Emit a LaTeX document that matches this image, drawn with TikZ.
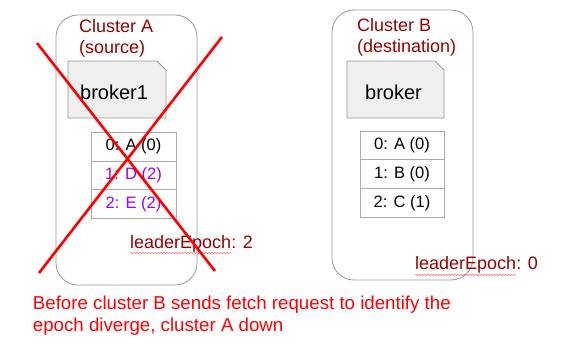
\documentclass[tikz,border=0pt]{standalone}
\usepackage{fontspec}
\setmainfont{Liberation Sans}
\usetikzlibrary{decorations.pathmorphing}
\definecolor{dred}{HTML}{990000}
\definecolor{purp}{HTML}{9900FF}
\definecolor{boxgray}{HTML}{999999}
\definecolor{loggray}{HTML}{AAAAAA}
\definecolor{brokerfill}{HTML}{EFEFEF}
\tikzset{
  cluster/.style={draw=boxgray, line width=0.8pt, rounded corners=22pt},
  brokershape/.style={draw=boxgray, fill=brokerfill, line width=0.8pt},
  logbox/.style={draw=loggray, line width=0.8pt, minimum width=85pt, minimum height=28.7pt, inner sep=0pt, font=\fontsize{16.5}{18}\selectfont},
  lbl/.style={anchor=base west, inner sep=0pt},
  clusterlbl/.style={lbl, text=dred, font=\fontsize{18}{21}\selectfont},
  brokertxt/.style={lbl, font=\fontsize{20}{24}\selectfont},
  epochtxt/.style={lbl, text=dred, font=\fontsize{18}{21}\selectfont},
  notetxt/.style={lbl, text=red, font=\fontsize{18.7}{22}\selectfont},
  squiggle/.style={draw=red!55, line width=0.5pt, decorate, decoration={snake, amplitude=0.7pt, segment length=3pt}},
  cross/.style={draw=red, line width=2.6pt}
}
\begin{document}
\begin{tikzpicture}[x=1pt,y=-1pt]
\useasboundingbox (0,0) rectangle (568,339);
% Cluster A
\draw[cluster] (56,15) rectangle (197,285);
\node[clusterlbl] (cA1) at (79,32.2) {Cluster A};
\node[clusterlbl] (cA2) at (79,53.3) {(source)};
\draw[brokershape] (68,61) -- (157,61) -- (166,70) -- (166,118) -- (68,118) -- cycle;
\node[brokertxt] (bA) at (80,100) {broker1};
\node[logbox] (a0) at (133.5,146.7) {0: A (0)};
\node[logbox, text=purp] (a1) at (133.5,175.4) {1: D (2)};
\node[logbox, text=purp] (a2) at (133.5,204.1) {2: E (2)};
\node[epochtxt] (eA) at (130,248.3) {leaderEpoch: 2};
\draw[squiggle] (130,253) -- (231,253);
% Cluster B
\draw[cluster] (332,10) rectangle (473,280);
\node[clusterlbl] (cB1) at (357,31.7) {Cluster B};
\node[clusterlbl] (cB2) at (357,53) {(destination)};
\draw[brokershape] (347,61) -- (435,61) -- (444,70) -- (444,118) -- (347,118) -- cycle;
\node[brokertxt] (bB) at (365,100) {broker};
\node[logbox, minimum width=84pt] (b0) at (402,145.5) {0: A (0)};
\node[logbox, minimum width=84pt] (b1) at (402,174.2) {1: B (0)};
\node[logbox, minimum width=84pt] (b2) at (402,202.9) {2: C (1)};
\node[epochtxt] (eB) at (415,270) {leaderEpoch: 0};
\draw[squiggle] (415,275) -- (516,275);
% red X
\coordinate (x1s) at (37,43);
\coordinate (x1e) at (215,271);
\coordinate (x2s) at (222,37);
\coordinate (x2e) at (39,273);
\draw[cross] (x1s) -- (x1e);
\draw[cross] (x2s) -- (x2e);
% note
\node[notetxt] (n1) at (32.7,309.3) {Before cluster B sends fetch request to identify the};
\node[notetxt] (n2) at (32.7,331.7) {epoch diverge, cluster A down};
\end{tikzpicture}
\end{document}
